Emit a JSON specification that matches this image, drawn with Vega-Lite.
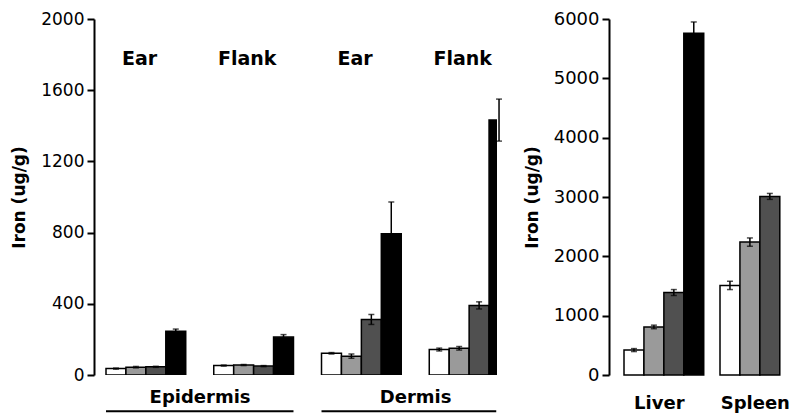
{
  "$schema": "https://vega.github.io/schema/vega-lite/v6.json",
  "padding": {"left": 10, "top": 10, "right": 0, "bottom": 0},
  "background": "white",
  "config": {
    "font": "DejaVu Sans",
    "view": {"stroke": null},
    "axis": {
      "domainColor": "black", "domainWidth": 2,
      "tickColor": "black", "tickWidth": 2, "tickSize": 7,
      "labelColor": "black", "labelFontSize": 17, "labelPadding": 3,
      "titleColor": "black", "titleFontSize": 17, "titleFontWeight": "bold",
      "titlePadding": 12, "grid": false
    }
  },
  "datasets": {
    "skin": [
      {"group": "Epidermis Ear", "trt": "A", "value": 36, "lo": 33, "hi": 39},
      {"group": "Epidermis Ear", "trt": "B", "value": 44, "lo": 40, "hi": 48},
      {"group": "Epidermis Ear", "trt": "C", "value": 46, "lo": 43, "hi": 49},
      {"group": "Epidermis Ear", "trt": "D", "value": 246, "lo": 234, "hi": 258},
      {"group": "Epidermis Flank", "trt": "A", "value": 53, "lo": 50, "hi": 56},
      {"group": "Epidermis Flank", "trt": "B", "value": 56, "lo": 53, "hi": 59},
      {"group": "Epidermis Flank", "trt": "C", "value": 50, "lo": 47, "hi": 53},
      {"group": "Epidermis Flank", "trt": "D", "value": 213, "lo": 199, "hi": 227},
      {"group": "Dermis Ear", "trt": "A", "value": 122, "lo": 118, "hi": 126},
      {"group": "Dermis Ear", "trt": "B", "value": 106, "lo": 94, "hi": 118},
      {"group": "Dermis Ear", "trt": "C", "value": 312, "lo": 284, "hi": 340},
      {"group": "Dermis Ear", "trt": "D", "value": 794, "lo": 616, "hi": 972},
      {"group": "Dermis Flank", "trt": "A", "value": 143, "lo": 135, "hi": 151},
      {"group": "Dermis Flank", "trt": "B", "value": 150, "lo": 140, "hi": 160},
      {"group": "Dermis Flank", "trt": "C", "value": 391, "lo": 371, "hi": 411},
      {"group": "Dermis Flank", "trt": "D", "value": 1432, "lo": 1314, "hi": 1550}
    ],
    "sites": [
      {"group": "Epidermis Ear", "site": "Ear"},
      {"group": "Epidermis Flank", "site": "Flank"},
      {"group": "Dermis Ear", "site": "Ear"},
      {"group": "Dermis Flank", "site": "Flank"}
    ],
    "tissues": [
      {"tissue": "Epidermis", "first": "Epidermis Ear", "last": "Epidermis Flank"},
      {"tissue": "Dermis", "first": "Dermis Ear", "last": "Dermis Flank"}
    ],
    "organs": [
      {"organ": "Liver", "trt": "A", "value": 420, "lo": 395, "hi": 445},
      {"organ": "Liver", "trt": "B", "value": 810, "lo": 780, "hi": 840},
      {"organ": "Liver", "trt": "C", "value": 1390, "lo": 1340, "hi": 1440},
      {"organ": "Liver", "trt": "D", "value": 5760, "lo": 5570, "hi": 5950},
      {"organ": "Spleen", "trt": "A", "value": 1510, "lo": 1440, "hi": 1580},
      {"organ": "Spleen", "trt": "B", "value": 2240, "lo": 2170, "hi": 2310},
      {"organ": "Spleen", "trt": "C", "value": 3010, "lo": 2960, "hi": 3060}
    ]
  },
  "spacing": 20,
  "hconcat": [
    {
      "width": 403,
      "height": 356,
      "layer": [
        {
          "data": {"name": "skin"},
          "mark": {"type": "bar", "stroke": "black", "strokeWidth": 1.5, "clip": true},
          "encoding": {
            "x": {"field": "group", "type": "nominal",
                  "scale": {"domain": ["Epidermis Ear", "Epidermis Flank", "Dermis Ear", "Dermis Flank"], "range": [12, 415], "paddingInner": 0.26, "paddingOuter": 0},
                  "axis": null},
            "xOffset": {"field": "trt", "type": "nominal", "scale": {"domain": ["A", "B", "C", "D"], "paddingInner": 0, "paddingOuter": 0}},
            "y": {"field": "value", "type": "quantitative",
                  "scale": {"domain": [0, 2000], "nice": false},
                  "axis": {"values": [0, 400, 800, 1200, 1600, 2000], "format": "d", "title": "Iron (ug/g)"}},
            "fill": {"field": "trt", "type": "nominal",
                     "scale": {"domain": ["A", "B", "C", "D"], "range": ["white", "#9a9a9a", "#505050", "black"]},
                     "legend": null}
          }
        },
        {
          "data": {"name": "skin"},
          "mark": {"type": "rule", "strokeWidth": 1.5, "color": "black"},
          "encoding": {
            "x": {"field": "group", "type": "nominal"},
            "xOffset": {"field": "trt", "type": "nominal"},
            "y": {"field": "lo", "type": "quantitative"},
            "y2": {"field": "hi"}
          }
        },
        {
          "data": {"name": "skin"},
          "mark": {"type": "tick", "orient": "horizontal", "size": 6, "thickness": 1.5, "color": "black"},
          "encoding": {
            "x": {"field": "group", "type": "nominal"},
            "xOffset": {"field": "trt", "type": "nominal"},
            "y": {"field": "hi", "type": "quantitative"}
          }
        },
        {
          "data": {"name": "skin"},
          "mark": {"type": "tick", "orient": "horizontal", "size": 6, "thickness": 1.5, "color": "black"},
          "encoding": {
            "x": {"field": "group", "type": "nominal"},
            "xOffset": {"field": "trt", "type": "nominal"},
            "y": {"field": "lo", "type": "quantitative"}
          }
        },
        {
          "data": {"name": "sites"},
          "mark": {"type": "text", "fontWeight": "bold", "fontSize": 19, "align": "center", "baseline": "middle", "color": "black"},
          "encoding": {
            "x": {"field": "group", "type": "nominal", "bandPosition": 0.42},
            "y": {"datum": 1775},
            "text": {"field": "site"}
          }
        },
        {
          "data": {"name": "tissues"},
          "mark": {"type": "text", "fontWeight": "bold", "fontSize": 18, "align": "center", "baseline": "alphabetic", "color": "black"},
          "encoding": {
            "x": {"field": "first", "type": "nominal", "bandPosition": 1.18},
            "y": {"datum": -155},
            "text": {"field": "tissue"}
          }
        },
        {
          "data": {"name": "tissues"},
          "transform": [{"filter": "datum.tissue === 'Epidermis'"}],
          "mark": {"type": "rule", "strokeWidth": 2, "color": "black"},
          "encoding": {
            "x": {"field": "first", "type": "nominal", "bandPosition": 0},
            "x2": {"field": "last", "bandPosition": 1},
            "y": {"datum": -204}
          }
        },
        {
          "data": {"name": "tissues"},
          "transform": [{"filter": "datum.tissue === 'Dermis'"}],
          "mark": {"type": "rule", "strokeWidth": 2, "color": "black"},
          "encoding": {
            "x": {"field": "first", "type": "nominal", "bandPosition": 0},
            "x2": {"field": "last", "bandPosition": 0.84},
            "y": {"datum": -204}
          }
        }
      ]
    },
    {
      "width": 182,
      "height": 356,
      "data": {"name": "organs"},
      "layer": [
        {
          "mark": {"type": "bar", "stroke": "black", "strokeWidth": 1.5},
          "encoding": {
            "x": {"field": "organ", "type": "nominal",
                  "scale": {"domain": ["Liver", "Spleen"], "range": [15, 181.6], "paddingInner": 0.2646, "paddingOuter": 0},
                  "axis": {"title": null, "domain": false, "ticks": false, "labelAngle": 0, "labelFontSize": 18, "labelFontWeight": "bold", "labelPadding": 19}},
            "xOffset": {"field": "trt", "type": "nominal", "scale": {"domain": ["A", "B", "C", "D"], "paddingInner": 0, "paddingOuter": 0}},
            "y": {"field": "value", "type": "quantitative",
                  "scale": {"domain": [0, 6000], "nice": false},
                  "axis": {"values": [0, 1000, 2000, 3000, 4000, 5000, 6000], "format": "d", "title": "Iron (ug/g)", "labelFontSize": 18}},
            "fill": {"field": "trt", "type": "nominal",
                     "scale": {"domain": ["A", "B", "C", "D"], "range": ["white", "#9a9a9a", "#505050", "black"]},
                     "legend": null}
          }
        },
        {
          "mark": {"type": "rule", "strokeWidth": 1.5, "color": "black"},
          "encoding": {
            "x": {"field": "organ", "type": "nominal"},
            "xOffset": {"field": "trt", "type": "nominal"},
            "y": {"field": "lo", "type": "quantitative"},
            "y2": {"field": "hi"}
          }
        },
        {
          "mark": {"type": "tick", "orient": "horizontal", "size": 6, "thickness": 1.5, "color": "black"},
          "encoding": {
            "x": {"field": "organ", "type": "nominal"},
            "xOffset": {"field": "trt", "type": "nominal"},
            "y": {"field": "hi", "type": "quantitative"}
          }
        },
        {
          "mark": {"type": "tick", "orient": "horizontal", "size": 6, "thickness": 1.5, "color": "black"},
          "encoding": {
            "x": {"field": "organ", "type": "nominal"},
            "xOffset": {"field": "trt", "type": "nominal"},
            "y": {"field": "lo", "type": "quantitative"}
          }
        }
      ]
    }
  ]
}
